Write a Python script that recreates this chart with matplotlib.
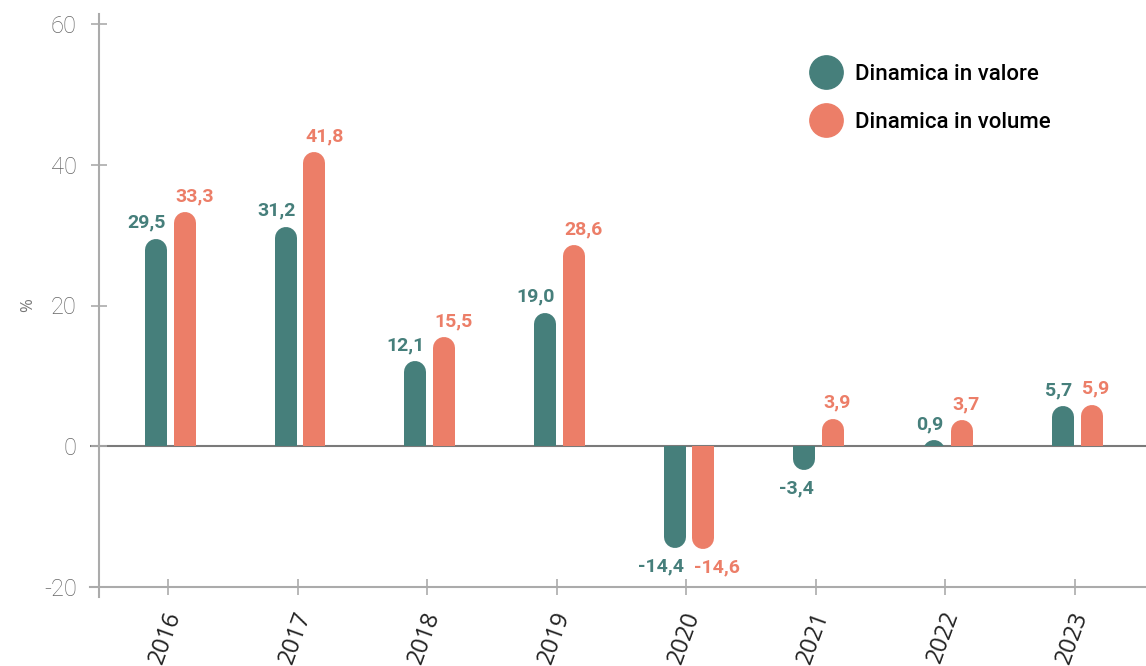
import numpy as np
import matplotlib.pyplot as plt
from matplotlib.patches import Rectangle
from matplotlib.lines import Line2D

years = ["2016", "2017", "2018", "2019", "2020", "2021", "2022", "2023"]
valore = [29.5, 31.2, 12.1, 19.0, -14.4, -3.4, 0.9, 5.7]
volume = [33.3, 41.8, 15.5, 28.6, -14.6, 3.9, 3.7, 5.9]
yticks = [-20, 0, 20, 40, 60]

teal = "#467F7B"
coral = "#EC7E68"
grey = "#ABABAB"
font = ["Open Sans", "DejaVu Sans"]
rfont = ["Roboto", "DejaVu Sans"]

fig = plt.figure(figsize=(11.46, 6.66), dpi=100)
ax = fig.add_axes([90 / 1146, 69 / 666, 1 - 90 / 1146, 583 / 666])
ymin, ymax = -21.42, 61.42
xmin, xmax = -0.603, 7.55
ax.set_xlim(xmin, xmax)
ax.set_ylim(ymin, ymax)

# spines
for s in ["top", "right"]:
    ax.spines[s].set_visible(False)
ax.spines["left"].set_position(("data", -0.533))
ax.spines["bottom"].set_position(("data", -20))
for s in ["left", "bottom"]:
    ax.spines[s].set_color(grey)
    ax.spines[s].set_linewidth(1.5)

ax.set_yticks(yticks)
ax.set_yticklabels([str(t) for t in yticks], fontfamily=rfont,
                   fontweight="light", fontsize=17, color="#666666")
ax.tick_params(axis="y", direction="inout", length=12, width=1.2, color=grey, pad=10)
x = np.arange(len(years))
ax.set_xticks(x)
ax.set_xticklabels([])
ax.tick_params(axis="x", direction="inout", length=12, width=1.2, color=grey)

# year labels rotated
for i, yr in enumerate(years):
    ax.annotate(yr, (i, -20), xytext=(5, -18), textcoords="offset points",
                rotation=70, rotation_mode="anchor", ha="right", va="center",
                fontsize=17, fontfamily=font, color="#222222")

ax.set_ylabel("%", fontsize=12, color="#777777", fontfamily=font, labelpad=6)

# zero line
ax.axhline(0, color="#7a7a7a", lw=1.5, zorder=1)

# rounded bars
bar_px = 22
lw_pt = bar_px * 72 / fig.dpi
px_per_unit = ax.get_window_extent().height / (ymax - ymin)
r = (bar_px / 2) / px_per_unit
half_w = (bar_px / 2) / (ax.get_window_extent().width / (xmax - xmin))

def rbar(xc, v, color):
    if v >= 0:
        clip = Rectangle((xmin, 0), xmax - xmin, ymax, transform=ax.transData)
        line, = ax.plot([xc, xc], [-5, v - r], color=color, lw=lw_pt,
                        solid_capstyle="round", zorder=2)
    else:
        clip = Rectangle((xmin, ymin), xmax - xmin, -ymin, transform=ax.transData)
        line, = ax.plot([xc, xc], [5, v + r], color=color, lw=lw_pt,
                        solid_capstyle="round", zorder=2)
    line.set_clip_path(clip)

def fmt(v):
    return f"{v:.1f}".replace(".", ",")

def label(xe, v, col, ha):
    if v >= 0:
        ax.annotate(fmt(v), (xe, v), xytext=(0, 5), textcoords="offset points",
                    ha=ha, va="bottom", fontsize=14, fontweight="bold",
                    color=col, fontfamily=rfont)
    else:
        ax.annotate(fmt(v), (xe, v), xytext=(0, -7), textcoords="offset points",
                    ha=ha, va="top", fontsize=14, fontweight="bold",
                    color=col, fontfamily=rfont)

off_t, off_c = -0.09, 0.13
for i in range(len(years)):
    rbar(i + off_t, valore[i], teal)
    rbar(i + off_c, volume[i], coral)
    label(i + off_t + half_w * 0.85, valore[i], teal, "right")
    label(i + off_c - half_w * 0.85, volume[i], coral, "left")

handles = [Line2D([], [], marker="o", ls="", markersize=24, color=teal),
           Line2D([], [], marker="o", ls="", markersize=24, color=coral)]
fig.legend(handles, ["Dinamica in valore", "Dinamica in volume"],
           loc="upper left", bbox_to_anchor=(784 / 1146, 1 - 44 / 666),
           frameon=False, labelspacing=1.2, handletextpad=0.3,
           prop={"family": rfont, "size": 16, "weight": "medium"})

fig.savefig("out.png", dpi=100)
